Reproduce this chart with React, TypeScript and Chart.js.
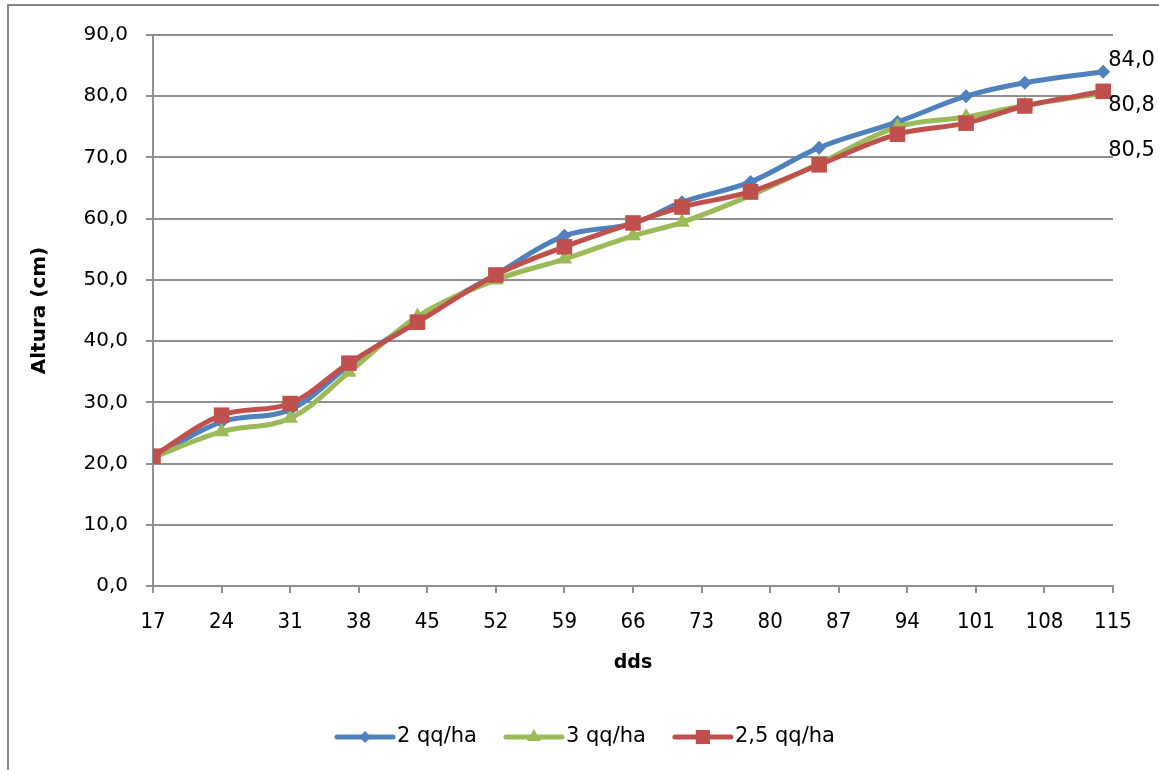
import React, { useEffect, useRef } from 'react';
import { Chart, registerables } from 'chart.js';

Chart.register(...registerables);

// ---- data ----
const dds = [17, 24, 31, 37, 44, 52, 59, 66, 71, 78, 85, 93, 100, 106, 114];
const serie2 = [21.0, 26.8, 28.8, 36.0, 43.6, 50.9, 57.2, 59.2, 62.7, 66.0, 71.6, 75.8, 80.0, 82.2, 84.0];
const serie3 = [21.0, 25.2, 27.4, 34.9, 44.0, 50.0, 53.4, 57.2, 59.4, 63.8, 69.0, 75.0, 76.6, 78.5, 80.5];
const serie25 = [21.2, 27.9, 29.8, 36.4, 43.1, 50.8, 55.4, 59.3, 61.9, 64.4, 68.8, 73.8, 75.6, 78.4, 80.8];
const seriesLabels = ['2 qq/ha', '3 qq/ha', '2,5 qq/ha'];
const xMin = 17;
const xMax = 115;
const xStep = 7;
const yMin = 0;
const yMax = 90;
const yStep = 10;
const yTitle = 'Altura (cm)';
const xTitle = 'dds';

// ---- styles ----
const colors = ['#4F81BD', '#9BBB59', '#C0504D'];
const pointStyles = ['rectRot', 'triangle', 'rect'];
const pointRadii = [7, 9, 11];
const labelDy = [-11, 57, 14];
const gridColor = '#8f8f8f';

const fmt = (v: number) => v.toFixed(1).replace('.', ',');

const toXY = (ys: number[]) => ys.map((y, i) => ({ x: dds[i], y }));

function drawMarker(ctx: CanvasRenderingContext2D, style: string, x: number, y: number, r: number, color: string) {
  ctx.save();
  ctx.fillStyle = color;
  ctx.beginPath();
  if (style === 'rectRot') {
    ctx.moveTo(x, y - r);
    ctx.lineTo(x + r, y);
    ctx.lineTo(x, y + r);
    ctx.lineTo(x - r, y);
  } else if (style === 'triangle') {
    const w = r * Math.sqrt(3) / 2;
    ctx.moveTo(x, y - r);
    ctx.lineTo(x + w, y + r / 2);
    ctx.lineTo(x - w, y + r / 2);
  } else {
    const s = r * Math.SQRT1_2;
    ctx.rect(x - s, y - s, 2 * s, 2 * s);
  }
  ctx.closePath();
  ctx.fill();
  ctx.restore();
}

const borderPlugin = {
  id: 'outerBorder',
  beforeDraw(chart: any) {
    const ctx = chart.ctx;
    ctx.save();
    ctx.strokeStyle = '#868686';
    ctx.lineWidth = 2;
    ctx.beginPath();
    ctx.moveTo(8, chart.height);
    ctx.lineTo(8, 5);
    ctx.lineTo(chart.width, 5);
    ctx.stroke();
    ctx.restore();
  },
};

const dataLabelPlugin = {
  id: 'lastLabels',
  afterDatasetsDraw(chart: any) {
    const ctx = chart.ctx;
    ctx.save();
    ctx.font = '21px "DejaVu Sans"';
    ctx.fillStyle = '#000';
    ctx.textAlign = 'left';
    ctx.textBaseline = 'middle';
    chart.data.datasets.forEach((ds: any, i: number) => {
      const meta = chart.getDatasetMeta(i);
      const n = ds.data.length - 1;
      const el = meta.data[n];
      if (!el) return;
      ctx.fillText(fmt(ds.data[n].y), el.x + 5, el.y + labelDy[i]);
    });
    ctx.restore();
  },
};

const legendPlugin = {
  id: 'customLegend',
  afterDraw(chart: any) {
    const ctx = chart.ctx;
    ctx.save();
    ctx.font = '21px "DejaVu Sans"';
    ctx.textBaseline = 'middle';
    ctx.textAlign = 'left';
    let x = 335;
    const y = 737;
    chart.data.datasets.forEach((ds: any, i: number) => {
      ctx.strokeStyle = colors[i];
      ctx.lineWidth = 5;
      ctx.lineCap = 'round';
      ctx.beginPath();
      ctx.moveTo(x + 2, y);
      ctx.lineTo(x + 58, y);
      ctx.stroke();
      drawMarker(ctx, pointStyles[i], x + 30, y, pointRadii[i] - 1, colors[i]);
      ctx.fillStyle = '#000';
      ctx.fillText(ds.label, x + 62, y);
      x += 62 + ctx.measureText(ds.label).width + 27;
    });
    ctx.restore();
  },
};

export default function App() {
  const ref = useRef<HTMLCanvasElement | null>(null);

  useEffect(() => {
    if (!ref.current) return;
    Chart.defaults.font.family = '"DejaVu Sans", sans-serif';
    Chart.defaults.color = '#000';
    const seriesData = [serie2, serie3, serie25];
    const chart = new Chart(ref.current, {
      type: 'line',
      data: {
        datasets: seriesData.map((s, i) => ({
          label: seriesLabels[i],
          data: toXY(s),
          borderColor: colors[i],
          backgroundColor: colors[i],
          borderWidth: 5,
          tension: 0.35,
          pointStyle: pointStyles[i] as any,
          pointRadius: pointRadii[i],
          pointBorderWidth: 0,
          pointBackgroundColor: colors[i],
          pointBorderColor: colors[i],
          order: 3 - i,
          fill: false,
        })),
      },
      options: {
        animation: false,
        responsive: true,
        maintainAspectRatio: false,
        layout: { padding: { left: 10, right: 46, top: 35, bottom: 77 } },
        plugins: {
          legend: { display: false },
          tooltip: { enabled: false },
        },
        scales: {
          x: {
            type: 'linear',
            min: xMin,
            max: xMax,
            afterFit: (s: any) => { s.height = 107; },
            ticks: {
              stepSize: xStep,
              maxTicksLimit: 30,
              autoSkip: false,
              maxRotation: 0,
              padding: 16,
              color: '#000',
              font: { family: '"DejaVu Sans Condensed", "Liberation Sans Narrow", "DejaVu Sans"', size: 22 },
              callback: (v: any) => String(v),
            },
            grid: {
              drawOnChartArea: false,
              drawTicks: true,
              tickLength: 7,
              color: gridColor,
              lineWidth: 2,
            },
            border: { display: true, color: gridColor, width: 2 },
            title: {
              display: true,
              text: xTitle,
              font: { size: 19, weight: 'bold', lineHeight: 1.2 },
              padding: { top: 0, bottom: 19 },
              color: '#000',
            },
          },
          y: {
            type: 'linear',
            min: yMin,
            max: yMax,
            afterFit: (s: any) => { s.width = 143; },
            ticks: {
              stepSize: yStep,
              padding: 18,
              color: '#000',
              font: { size: 20 },
              callback: (v: any) => fmt(Number(v)),
            },
            grid: {
              color: gridColor,
              lineWidth: 2,
              tickLength: 7,
              drawTicks: true,
            },
            border: { display: true, color: gridColor, width: 2 },
            title: {
              display: true,
              text: yTitle,
              font: { size: 20, weight: 'bold', lineHeight: 1.2 },
              padding: { top: 18, bottom: 0 },
              color: '#000',
            },
          },
        },
      },
      plugins: [borderPlugin, dataLabelPlugin, legendPlugin],
    });
    return () => chart.destroy();
  }, []);

  return (
    <div style={{ position: 'absolute', left: 0, top: 0, width: 1159, height: 770, background: '#fff' }}>
      <canvas ref={ref} />
    </div>
  );
}
